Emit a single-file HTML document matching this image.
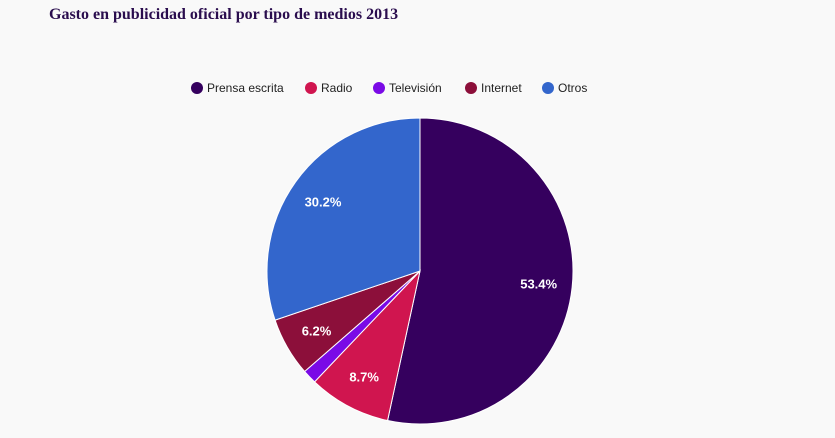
<!DOCTYPE html>
<html><head><meta charset="utf-8"><style>
body{margin:0;background:#f9f9f9;}
svg{display:block;font-family:"Liberation Sans",Arial,sans-serif;}
</style></head><body>
<svg id="chart" width="835" height="438">
<rect width="835" height="438" fill="#f9f9f9"/>
<text x="49" y="19" font-family="Liberation Serif,serif" font-weight="bold" font-size="16" fill="#2a0d4e">Gasto en publicidad oficial por tipo de medios 2013</text>
<g id="legend"></g>
<g id="slices"></g>
<g id="labels"></g>
</svg>
<script>
const categories=["Prensa escrita","Radio","Televisión","Internet","Otros"];
const values=[53.4,8.7,1.5,6.2,30.2];
const colors=["#35005e","#d0154f","#7a0ae6","#8c0f3a","#3366cc"];
const ns="http://www.w3.org/2000/svg";
const cx=420,cy=271,R=153;
const total=values.reduce((a,b)=>a+b,0);
const sl=document.getElementById('slices'),lb=document.getElementById('labels'),lg=document.getElementById('legend');
function pt(a,r){return [cx+r*Math.sin(a),cy-r*Math.cos(a)];}
let acc=0;
values.forEach((v,i)=>{
  const a0=acc/total*2*Math.PI;acc+=v;const a1=acc/total*2*Math.PI;
  const p0=pt(a0,R),p1=pt(a1,R);
  const p=document.createElementNS(ns,'path');
  p.setAttribute('d',`M${cx},${cy}L${p0[0]},${p0[1]}A${R},${R} 0 ${a1-a0>Math.PI?1:0} 1 ${p1[0]},${p1[1]}Z`);
  p.setAttribute('fill',colors[i]);p.setAttribute('stroke','#fff');p.setAttribute('stroke-width','1');
  
  
  sl.appendChild(p);
  if(v/total>0.03){
    const m=pt((a0+a1)/2,R*0.78);
    const t=document.createElementNS(ns,'text');
    t.setAttribute('x',m[0]);t.setAttribute('y',m[1]+5);t.setAttribute('text-anchor','middle');
    t.setAttribute('font-size','13');t.setAttribute('font-weight','bold');t.setAttribute('fill','#fff');
    t.textContent=v.toFixed(1)+'%';
    
    
    lb.appendChild(t);
  }
});
const lx=[197,311,379,471,548];
categories.forEach((c,i)=>{
  const g=document.createElementNS(ns,'g');
  
  
  const d=document.createElementNS(ns,'circle');
  d.setAttribute('cx',lx[i]);d.setAttribute('cy',88);d.setAttribute('r',6);d.setAttribute('fill',colors[i]);
  const t=document.createElementNS(ns,'text');
  t.setAttribute('x',lx[i]+10);t.setAttribute('y',92);t.setAttribute('font-size','12');t.setAttribute('fill','#222');
  t.textContent=c;
  g.appendChild(d);g.appendChild(t);lg.appendChild(g);
});
</script>
</body></html>
